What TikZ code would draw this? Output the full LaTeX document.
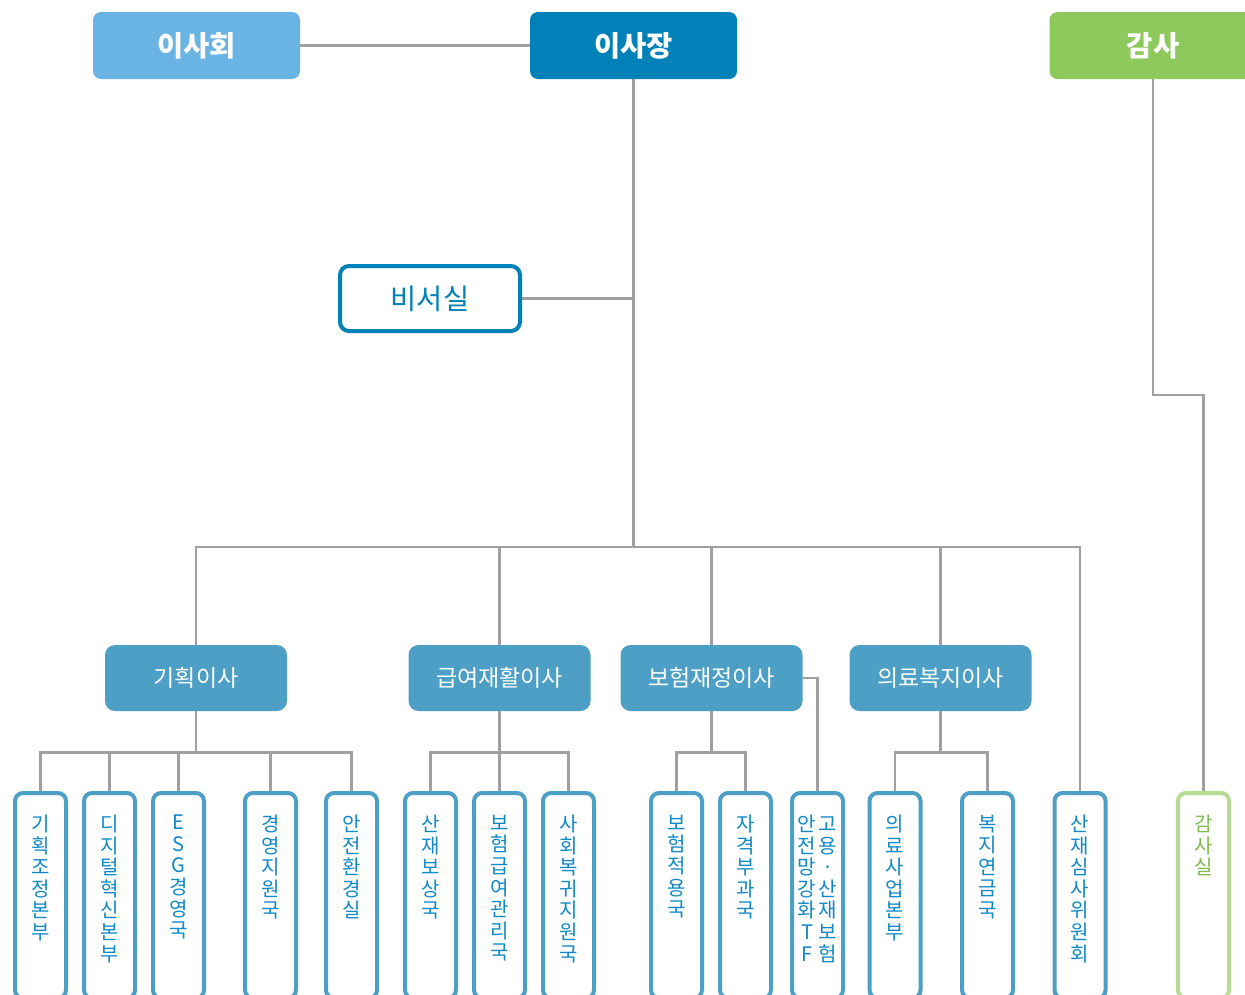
\documentclass[tikz,border=0pt]{standalone}
\usepackage{fontspec}
\newfontfamily\kr{Noto Sans CJK KR}
\definecolor{cIsahoe}{HTML}{6AB4E4}
\definecolor{cIsajang}{HTML}{0082B9}
\definecolor{cGamsa}{HTML}{8DC95C}
\definecolor{cMid}{HTML}{4E9FC6}
\definecolor{cLine}{HTML}{A0A0A3}
\definecolor{cLeafText}{HTML}{1089C7}
\definecolor{cGsBorder}{HTML}{B6DB92}
\definecolor{cGsText}{HTML}{7FBC4C}
\newcommand{\vt}[1]{\parbox[c][205pt][t]{51pt}{\kr\fontsize{20}{21.6}\selectfont\vspace*{22pt}\centering #1}}
\newcommand{\vtt}[2]{\parbox[c][205pt][t]{51pt}{\kr\fontsize{20}{21.6}\selectfont\vspace*{22pt}\centering
  \parbox[t]{21pt}{\centering #1}\parbox[t]{21pt}{\centering #2}}}
\begin{document}
\begin{tikzpicture}[x=1pt,y=-1pt,
  topbox/.style={rounded corners=8pt, minimum width=207pt, minimum height=67pt, inner sep=0pt,
    font=\kr\bfseries\fontsize{28.5}{30}\selectfont, text=white},
  midbox/.style={rounded corners=10pt, fill=cMid, minimum width=182pt, minimum height=66pt, inner sep=0pt,
    font=\kr\fontsize{23}{26}\selectfont, text=white},
  leafbox/.style={draw=cMid, line width=4pt, rounded corners=8pt, fill=white, minimum width=51pt,
    minimum height=205pt, inner sep=0pt, anchor=north, text=cLeafText},
  conn/.style={draw=cLine, line width=2.6pt}]
\useasboundingbox (0,0) rectangle (1245,994);
\clip (0,0) rectangle (1245,994);
\fill[white] (0,0) rectangle (1245,994);

% top level
\node[topbox, fill=cIsahoe] (isahoe) at (196.5,45.5) {이사회};
\node[topbox, fill=cIsajang] (isajang) at (633.5,45.5) {이사장};
\node[topbox, fill=cGamsa] (gamsa) at (1153,45.5) {감사};
\node[draw=cIsajang, line width=4pt, rounded corners=9pt, fill=white, minimum width=180pt, minimum height=65pt,
  inner sep=0pt, text=cIsajang, font=\kr\fontsize{28.5}{30}\selectfont] (biseo) at (430,298.5) {비서실};

% second level
\node[midbox] (kihoek) at (196,678) {기획이사};
\node[midbox] (geupyeo) at (499.5,678) {급여재활이사};
\node[midbox] (boheom) at (711.5,678) {보험재정이사};
\node[midbox] (uiryo) at (940.5,678) {의료복지이사};

% leaves
\node[leafbox] (l1) at (40.5,791) {\vt{기\\획\\조\\정\\본\\부}};
\node[leafbox] (l2) at (109.5,791) {\vt{디\\지\\털\\혁\\신\\본\\부}};
\node[leafbox] (l3) at (178.5,791) {\vt{E\\S\\G\\경\\영\\국}};
\node[leafbox] (l4) at (270.5,791) {\vt{경\\영\\지\\원\\국}};
\node[leafbox] (l5) at (351.5,791) {\vt{안\\전\\환\\경\\실}};
\node[leafbox] (l6) at (430.5,791) {\vt{산\\재\\보\\상\\국}};
\node[leafbox] (l7) at (499.5,791) {\vt{보\\험\\급\\여\\관\\리\\국}};
\node[leafbox] (l8) at (568.5,791) {\vt{사\\회\\복\\귀\\지\\원\\국}};
\node[leafbox] (l9) at (676.5,791) {\vt{보\\험\\적\\용\\국}};
\node[leafbox] (l10) at (745.5,791) {\vt{자\\격\\부\\과\\국}};
\node[leafbox] (l11) at (817.5,791) {\vtt{안\\전\\망\\강\\화\\T\\F}{고\\용\\·\\산\\재\\보\\험}};
\node[leafbox] (l12) at (895,791) {\vt{의\\료\\사\\업\\본\\부}};
\node[leafbox] (l13) at (987.5,791) {\vt{복\\지\\연\\금\\국}};
\node[leafbox] (l14) at (1080,791) {\vt{산\\재\\심\\사\\위\\원\\회}};
\node[leafbox, draw=cGsBorder, text=cGsText] (l15) at (1203.5,791) {\vt{감\\사\\실}};

% junction coordinates
\coordinate (hub) at (633.5,547);
\coordinate (kbar) at (196,752.5);
\coordinate (gbar) at (499.5,752.5);
\coordinate (bbar) at (711.5,752.5);
\coordinate (ubar) at (940.5,752.5);
\coordinate (gturn) at (1153,395);

% connectors
\draw[conn] (isahoe.east) -- (isajang.west);
\draw[conn] (isajang.south) -- (hub);
\draw[conn] (biseo.east) -- (biseo.east -| isajang.south);
\draw[conn] (kihoek.north) -- (kihoek.north |- hub) -- (l14.north |- hub) -- (l14.north);
\draw[conn] (geupyeo.north) -- (geupyeo.north |- hub);
\draw[conn] (boheom.north) -- (boheom.north |- hub);
\draw[conn] (uiryo.north) -- (uiryo.north |- hub);
\draw[conn] (gamsa.south) -- (gturn) -- (gturn -| l15.north) -- (l15.north);

\draw[conn] (kihoek.south) -- (kbar);
\draw[conn] (l1.north) -- (l1.north |- kbar) -- (l5.north |- kbar) -- (l5.north);
\draw[conn] (l2.north) -- (l2.north |- kbar);
\draw[conn] (l3.north) -- (l3.north |- kbar);
\draw[conn] (l4.north) -- (l4.north |- kbar);

\draw[conn] (geupyeo.south) -- (gbar);
\draw[conn] (l6.north) -- (l6.north |- gbar) -- (l8.north |- gbar) -- (l8.north);
\draw[conn] (l7.north) -- (l7.north |- gbar);

\draw[conn] (boheom.south) -- (bbar);
\draw[conn] (l9.north) -- (l9.north |- bbar) -- (l10.north |- bbar) -- (l10.north);
\draw[conn] (boheom.east) -- (boheom.east -| l11.north) -- (l11.north);

\draw[conn] (uiryo.south) -- (ubar);
\draw[conn] (l12.north) -- (l12.north |- ubar) -- (l13.north |- ubar) -- (l13.north);
\end{tikzpicture}
\end{document}
